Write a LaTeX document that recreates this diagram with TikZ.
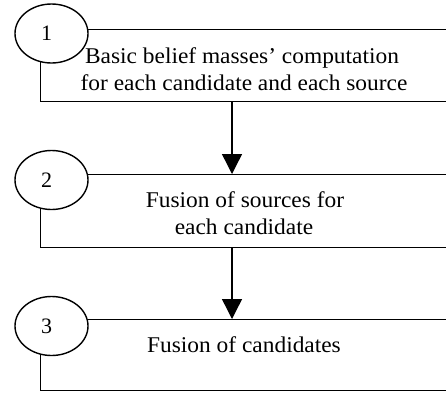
\documentclass[tikz,border=0pt]{standalone}
\usepackage{fontspec}
\setmainfont{Liberation Serif}
\usetikzlibrary{arrows.meta,shapes.geometric}
\begin{document}
\begin{tikzpicture}[x=1pt,y=-1pt,
  stepbox/.style={draw,line width=1.4pt,minimum width=440pt,inner sep=0pt},
  num/.style={draw,fill=white,ellipse,line width=1.4pt,minimum width=73pt,minimum height=59pt,inner sep=0pt,font=\fontsize{22}{22}\selectfont},
  lbl/.style={inner sep=0pt,font=\fontsize{22.5}{22.5}\selectfont\addfontfeature{FakeStretch=1.04},anchor=base},
  flow/.style={line width=1.4pt,-{Triangle[width=20pt,length=20pt]}}]
\useasboundingbox (0,0) rectangle (446,394);
\clip (0,0) rectangle (446,394);
% three process boxes, open past the right edge
\node[stepbox,minimum height=72pt,anchor=north west] (b1) at (40,29) {};
\node[stepbox,minimum height=73pt,anchor=north west] (b2) at (40,174) {};
\node[stepbox,minimum height=71pt,anchor=north west] (b3) at (40,319) {};
% step numbers
\node[num] (n1) at (51.5,33.5) {\hspace*{-10pt}1};
\node[num] (n2) at (51.5,180) {\hspace*{-10pt}2};
\node[num] (n3) at (51.5,326) {\hspace*{-10pt}3};
% labels
\node[lbl] (t1a) at (242,63) {Basic belief masses’ computation};
\node[lbl] (t1b) at (244,90) {for each candidate and each source};
\node[lbl] (t2a) at (245,207) {Fusion of sources for};
\node[lbl] (t2b) at (244,234) {each candidate};
\node[lbl] (t3) at (244,352) {Fusion of candidates};
% connectors between consecutive boxes
\path (b1.south west) ++(192,0) coordinate (c1)
      (b2.north west) ++(192,0) coordinate (c2)
      (b2.south west) ++(192,0) coordinate (c3)
      (b3.north west) ++(192,0) coordinate (c4);
\draw[flow] (c1) -- (c2);
\draw[flow] (c3) -- (c4);
\end{tikzpicture}
\end{document}
